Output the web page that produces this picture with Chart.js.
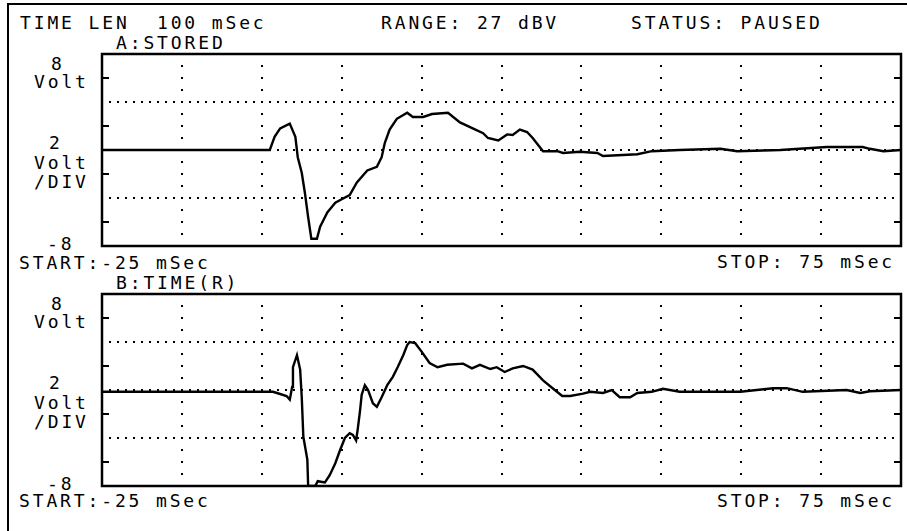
<!DOCTYPE html>
<html>
<head>
<meta charset="utf-8">
<title>Scope capture</title>
<style>
  html, body { margin: 0; padding: 0; background: #fff; }
  body { width: 907px; height: 531px; position: relative; overflow: hidden; }
  .frame { position: absolute; left: 7px; top: 3px; width: 910px; height: 540px;
           border-left: 2px solid #000; border-top: 2px solid #000; }
  .t { position: absolute; font-family: "DejaVu Sans Mono", monospace; font-size: 18px;
       line-height: 20px; letter-spacing: 2.86px; white-space: pre; color: #000; }
  canvas { position: absolute; left: 0; }
</style>
</head>
<body>
<div class="frame"></div>

<div class="t" style="left:20px;top:13px">TIME LEN  100 mSec</div>
<div class="t" style="left:381px;top:13px">RANGE: 27 dBV</div>
<div class="t" style="left:631px;top:13px">STATUS: PAUSED</div>

<div class="t" style="left:116px;top:33px">A:STORED</div>
<div class="t" style="left:51px;top:54px">8</div>
<div class="t" style="left:34px;top:72px">Volt</div>
<div class="t" style="left:49px;top:133px">2</div>
<div class="t" style="left:34px;top:153px">Volt</div>
<div class="t" style="left:34px;top:172px">/DIV</div>
<div class="t" style="left:47px;top:234px">-8</div>
<div class="t" style="left:19px;top:253px">START:-25 mSec</div>
<div class="t" style="left:717px;top:252px">STOP: 75 mSec</div>

<div class="t" style="left:116px;top:273px">B:TIME(R)</div>
<div class="t" style="left:51px;top:294px">8</div>
<div class="t" style="left:34px;top:312px">Volt</div>
<div class="t" style="left:49px;top:373px">2</div>
<div class="t" style="left:34px;top:393px">Volt</div>
<div class="t" style="left:34px;top:412px">/DIV</div>
<div class="t" style="left:47px;top:474px">-8</div>
<div class="t" style="left:19px;top:491px">START:-25 mSec</div>
<div class="t" style="left:717px;top:491px">STOP: 75 mSec</div>

<canvas id="chartA" width="907" height="212" style="top:44px"></canvas>
<canvas id="chartB" width="907" height="212" style="top:284px"></canvas>

<script src="https://cdn.jsdelivr.net/npm/chart.js@4.4.1/dist/chart.umd.min.js"></script>
<script>
// sweep: -25 .. 75 mSec, 10 mSec/div ; screen -8 .. 8 Volt
var tMin = -25, tMax = 75;
var vMin = -8, vMax = 8;
var vGridTimes = [-15, -5, 5, 15, 25, 35, 45, 55, 65];
var hGridVolts = [4, 0, -4];
var edgeTickVolts = [6, 2, -2, -6];

// trace A (stored)
var timeA = [-25, -4.4, -4.0, -3.4, -2.7, -1.5, -0.8, -0.5, 0.0, 0.4, 0.8, 1.2, 1.9, 2.3, 3.2, 4.2, 5.0, 6.0, 6.9, 8.2,
  9.4, 10.0, 10.4, 11.0, 11.9, 13.2, 13.9, 15.2, 16.3, 18.3, 19.8, 21.4, 22.7, 23.3, 24.6, 25.7, 26.4, 27.3, 28.2, 28.9,
  30.2, 32.0, 32.7, 34.8, 37.0, 37.7, 40.8, 42.0, 43.8, 47.3, 52.4, 54.5, 59.9, 65.7, 70.2, 71.1, 72.8, 75];
var voltA = [0, 0, 0, 1.1, 1.8, 2.2, 1.1, -0.6, -1.9, -3.6, -5.6, -7.4, -7.4, -6.4, -5.2, -4.4, -4.1, -3.75, -2.7, -1.7,
  -1.4, -0.6, 0.6, 1.7, 2.6, 3.1, 2.75, 2.75, 3.0, 3.1, 2.3, 1.8, 1.4, 1.0, 0.8, 1.3, 1.25, 1.7, 1.5, 1.0,
  -0.1, -0.1, -0.25, -0.15, -0.25, -0.5, -0.4, -0.35, -0.1, 0, 0.1, -0.1, 0, 0.25, 0.25, 0.1, -0.1, 0];

// trace B (time, R)
var timeB = [-25, -3.6, -3.1, -1.9, -1.5, -1.2, -1.1, -0.6, -0.2, 0.0, 0.2, 0.7, 0.8, 1.7, 2.0, 2.9, 3.5, 4.2, 4.8, 5.4,
  6.0, 6.4, 6.8, 7.0, 7.3, 7.5, 7.9, 8.3, 8.9, 9.4, 10.0, 10.7, 11.4, 12.0, 12.7, 13.2, 13.5, 14.2, 15.0, 16.0,
  17.0, 18.2, 20.2, 21.3, 22.3, 23.6, 24.4, 25.4, 26.4, 27.7, 28.9, 30.2, 31.4, 32.6, 33.6, 35.2, 36.1, 37.7, 38.8, 39.8,
  41.1, 42.0, 43.8, 45.2, 47.3, 54.9, 59.0, 60.7, 62.7, 68.2, 69.9, 71.1, 75];
var voltB = [-0.15, -0.15, -0.25, -0.5, -0.8, 0.25, 1.9, 2.9, 1.7, -0.6, -3.9, -5.8, -8, -8, -7.6, -7.7, -7.1, -6.1, -5.0, -4.0,
  -3.6, -3.75, -4.2, -3.3, -1.7, -0.4, 0.4, 0, -1.1, -1.4, -0.6, 0.4, 1.1, 1.9, 2.9, 3.75, 4.0, 3.9, 3.2, 2.25,
  1.9, 2.1, 2.2, 1.8, 2.1, 1.75, 1.9, 1.5, 1.8, 2.0, 1.7, 0.8, 0.15, -0.5, -0.5, -0.3, -0.15, -0.25, 0, -0.6,
  -0.6, -0.25, -0.15, 0.1, -0.15, -0.15, 0.15, 0.15, -0.15, 0, -0.25, -0.1, 0];

function toPoints(ts, vs) {
  var pts = [];
  for (var i = 0; i < ts.length; i++) pts.push({ x: ts[i], y: vs[i] });
  return pts;
}

// dotted graticule, edge ticks and frame
var scopeGrid = {
  id: 'scopeGrid',
  beforeDatasetsDraw: function(chart) {
    var ctx = chart.ctx, a = chart.chartArea, x = chart.scales.x, y = chart.scales.y;
    ctx.save();
    ctx.fillStyle = '#000';
    hGridVolts.forEach(function(v) {
      var py = Math.round(y.getPixelForValue(v));
      for (var t = tMin + 1; t < tMax; t++) {
        ctx.fillRect(Math.round(x.getPixelForValue(t)) - 1, py - 1, 2, 2);
      }
    });
    vGridTimes.forEach(function(t) {
      var px = Math.round(x.getPixelForValue(t));
      for (var v = vMin + 1; v < vMax; v++) {
        ctx.fillRect(px - 1, Math.round(y.getPixelForValue(v)) - 1, 2, 2);
      }
    });
    edgeTickVolts.forEach(function(v) {
      var py = Math.round(y.getPixelForValue(v));
      ctx.fillRect(a.left, py - 1, 7, 2);
      ctx.fillRect(a.right - 7, py - 1, 7, 2);
    });
    ctx.restore();
  },
  afterDatasetsDraw: function(chart) {
    var ctx = chart.ctx, a = chart.chartArea;
    ctx.save();
    ctx.strokeStyle = '#000';
    ctx.lineWidth = 2.5;
    ctx.strokeRect(a.left, a.top, a.right - a.left, a.bottom - a.top);
    ctx.restore();
  }
};

function makeScope(id, pts) {
  return new Chart(document.getElementById(id), {
    type: 'line',
    data: {
      datasets: [{
        data: pts,
        borderColor: '#000',
        borderWidth: 2.4,
        pointRadius: 0,
        tension: 0,
        fill: false
      }]
    },
    options: {
      responsive: false,
      animation: false,
      events: [],
      layout: { padding: { left: 102, right: 6, top: 10, bottom: 10 } },
      scales: {
        x: { type: 'linear', min: tMin, max: tMax, display: false },
        y: { type: 'linear', min: vMin, max: vMax, display: false }
      },
      plugins: { legend: { display: false }, tooltip: { enabled: false } }
    },
    plugins: [scopeGrid]
  });
}

makeScope('chartA', toPoints(timeA, voltA));
makeScope('chartB', toPoints(timeB, voltB));
</script>
</body>
</html>
